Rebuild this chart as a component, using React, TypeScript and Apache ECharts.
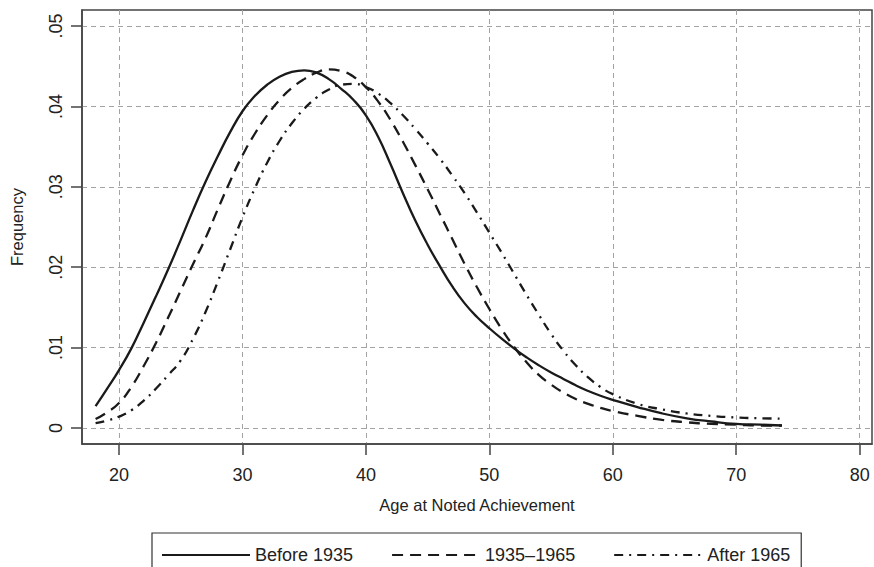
import React, { useEffect, useRef } from "react";
import * as echarts from "echarts";

const seriesNames = ["Before 1935", "1935–1965", "After 1965"];

const ages = [
  18.1, 19, 20, 21, 22, 23, 24, 25, 26, 27, 28, 29, 30, 31, 32, 33, 34, 35, 36, 37, 38, 39, 40,
  41, 42, 43, 44, 45, 46, 47, 48, 49, 50, 51, 52, 53, 54, 55, 56, 57, 58, 59, 60, 62, 64, 66,
  68, 70, 72, 73.7,
];

const before1935 = [
  0.0027, 0.0048, 0.0072, 0.0099, 0.0131, 0.0164, 0.0198, 0.0234, 0.0271, 0.0306, 0.0338, 0.0368,
  0.0394, 0.0413, 0.0427, 0.0437, 0.0443, 0.0445, 0.0442, 0.0434, 0.0422, 0.0408, 0.0389,
  0.0362, 0.0328, 0.0292, 0.0258, 0.0228, 0.0201, 0.0176, 0.0155, 0.0138, 0.0124, 0.0111, 0.0099,
  0.0088, 0.0078, 0.0069, 0.0061, 0.0053, 0.0046, 0.004, 0.0035, 0.0026, 0.0018, 0.0012, 0.0008,
  0.0005, 0.0004, 0.0003,
];

const mid19351965 = [
  0.0011, 0.0019, 0.0031, 0.0051, 0.0077, 0.0106, 0.0138, 0.0171, 0.0204, 0.0236, 0.0272, 0.0307,
  0.0339, 0.0366, 0.0389, 0.0408, 0.0423, 0.0434, 0.0442, 0.0446, 0.0444, 0.0437, 0.0424,
  0.0406, 0.0383, 0.0356, 0.0327, 0.0297, 0.0266, 0.0235, 0.0204, 0.0175, 0.0148, 0.0123, 0.0101,
  0.0082, 0.0066, 0.0054, 0.0044, 0.0036, 0.003, 0.0025, 0.0021, 0.0015, 0.001, 0.0007, 0.0005,
  0.0004, 0.0003, 0.0003,
];

const after1965 = [
  0.0006, 0.0009, 0.0014, 0.0022, 0.0034, 0.0049, 0.0066, 0.0084, 0.0111, 0.0144, 0.0182, 0.0222,
  0.0262, 0.0298, 0.033, 0.0357, 0.0379, 0.0397, 0.0411, 0.0421, 0.0427, 0.0428, 0.0424, 0.0416,
  0.0404, 0.0389, 0.0372, 0.0354, 0.0335, 0.0314, 0.0292, 0.0268, 0.0243, 0.0218, 0.0192, 0.0166,
  0.0141, 0.0117, 0.0096, 0.0078, 0.0063, 0.0051, 0.0042, 0.003, 0.0023, 0.0018, 0.0015, 0.0013,
  0.0012, 0.00115,
];

const xTicks = [20, 30, 40, 50, 60, 70, 80];
const yTicks = [0, 0.01, 0.02, 0.03, 0.04, 0.05];

const FONT = "'Liberation Sans', Arial, Helvetica, sans-serif";
const INK = "#1a1a1a";
const GRID = "#a3a3a3";
const AXIS = "#444444";

export default function App() {
  const ref = useRef<HTMLDivElement>(null);

  useEffect(() => {
    if (!ref.current) return;
    const chart = echarts.init(ref.current, null, { renderer: "svg" });
    const toPairs = (vals: number[]) => ages.map((a, i) => [a, vals[i]]);
    const dashes: any[] = ["solid", [11, 7], [9, 6, 2, 6]];
    const all = [before1935, mid19351965, after1965];

    chart.setOption({
      animation: false,
      backgroundColor: "#ffffff",
      textStyle: { fontFamily: FONT },
      grid: {
        left: 82,
        top: 10,
        width: 790,
        height: 434,
        containLabel: false,
        outerBoundsMode: "none",
        show: true,
        borderColor: AXIS,
        borderWidth: 1.5,
        backgroundColor: "#ffffff",
      },
      legend: {
        left: 152,
        top: 533,
        orient: "horizontal",
        data: seriesNames,
        itemWidth: 88,
        itemHeight: 14,
        itemGap: 38,
        itemTextGap: 15,
        padding: [13, 11, 13, 9],
        borderColor: "#333333",
        borderWidth: 1.2,
        itemStyle: { opacity: 0 },
        textStyle: { fontSize: 18, color: "#222", fontFamily: FONT },
      },
      xAxis: {
        type: "value",
        min: 17,
        max: 81,
        name: "Age at Noted Achievement",
        nameLocation: "middle",
        nameGap: 52,
        nameTextStyle: { fontSize: 16.5, color: "#222", fontFamily: FONT },
        axisLine: { show: true, onZero: false, lineStyle: { color: AXIS, width: 1.5 } },
        axisTick: {
          show: true,
          length: 11,
          customValues: xTicks,
          lineStyle: { color: AXIS, width: 1.5 },
        },
        axisLabel: {
          customValues: xTicks,
          fontSize: 18,
          color: "#222",
          margin: 22,
          fontFamily: FONT,
        },
        splitLine: {
          show: true,
          lineStyle: { color: GRID, width: 1, type: [5, 4] },
        },
      },
      yAxis: {
        type: "value",
        min: -0.002,
        max: 0.052,
        name: "Frequency",
        nameLocation: "middle",
        nameRotate: 90,
        nameGap: 57,
        nameTextStyle: { fontSize: 16.5, color: "#222", fontFamily: FONT },
        axisLine: { show: true, onZero: false, lineStyle: { color: AXIS, width: 1.5 } },
        axisTick: {
          show: true,
          length: 11,
          customValues: yTicks,
          lineStyle: { color: AXIS, width: 1.5 },
        },
        axisLabel: {
          customValues: yTicks,
          rotate: 90,
          fontSize: 18,
          color: "#222",
          margin: 17,
          fontFamily: FONT,
          formatter: (v: number) => (v === 0 ? "0" : v.toFixed(2).replace(/^0/, "")),
        },
        splitLine: {
          show: true,
          lineStyle: { color: GRID, width: 1, type: [5, 4] },
        },
      },
      series: seriesNames.map((name, i) => ({
        name,
        type: "line",
        data: toPairs(all[i]),
        smooth: 0.5,
        symbol: "none",
        showSymbol: false,
        lineStyle: { color: INK, width: 2.3, type: dashes[i] },
        itemStyle: { color: INK },
        z: 3,
      })),
    });

    return () => chart.dispose();
  }, []);

  return (
    <div
      ref={ref}
      style={{ position: "fixed", left: 0, top: 0, width: 874, height: 567, background: "#fff" }}
    />
  );
}
